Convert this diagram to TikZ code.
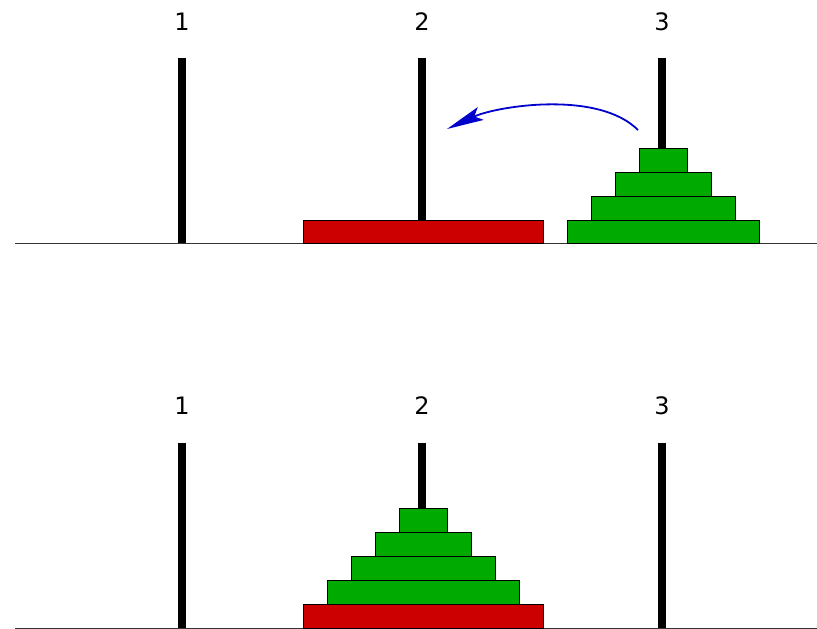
\documentclass[tikz,border=0pt]{standalone}
\usepackage{fontspec}
\setmainfont{DejaVu Sans}
\usetikzlibrary{arrows.meta}
\definecolor{dgreen}{RGB}{0,170,0}
\definecolor{dred}{RGB}{204,0,0}
\definecolor{arrblue}{RGB}{0,0,204}
\begin{document}
\begin{tikzpicture}[x=1pt,y=-1pt,
  peg/.style={fill=black,draw=none},
  gdisk/.style={fill=dgreen,draw=black,line width=0.8pt},
  rdisk/.style={fill=dred,draw=black,line width=0.8pt},
  base/.style={draw=black!80,line width=1pt},
  lbl/.style={font=\fontsize{24}{28}\selectfont,inner sep=0pt}]
\useasboundingbox (0,0) rectangle (817,629);
% ---------- top ----------
\foreach \i/\x in {1/182,2/422,3/662}{
  \fill[peg] (\x-4,58) rectangle (\x+4,243);
  \node[lbl] (t\i) at (\x,22) {\i};
}
\draw[base] (15,243.5) coordinate (tl) -- (817,243.5) coordinate (tr);
\draw[rdisk] (303,220) rectangle (543,243.5);
\draw[gdisk] (567,220) rectangle (759,243.5);
\draw[gdisk] (591,196) rectangle (735,220);
\draw[gdisk] (615,172) rectangle (711,196);
\draw[gdisk] (639,148) rectangle (687,172);
\coordinate (as) at (638,130);
\coordinate (ae) at (447,129);
\draw[arrblue,line width=1.8pt,-{Stealth[length=37pt,width=14pt,inset=7pt]}]
  (as) .. controls (598,90) and (497,106) .. (ae);
% ---------- bottom ----------
\foreach \i/\x in {1/182,2/422,3/662}{
  \fill[peg] (\x-4,443) rectangle (\x+4,628);
  \node[lbl] (b\i) at (\x,406) {\i};
}
\draw[base] (15,628.5) coordinate (bl) -- (817,628.5) coordinate (br);
\draw[rdisk] (303,604) rectangle (543,628.5);
\draw[gdisk] (327,580) rectangle (519,604);
\draw[gdisk] (351,556) rectangle (495,580);
\draw[gdisk] (375,532) rectangle (471,556);
\draw[gdisk] (399,508) rectangle (447,532);
\end{tikzpicture}
\end{document}
